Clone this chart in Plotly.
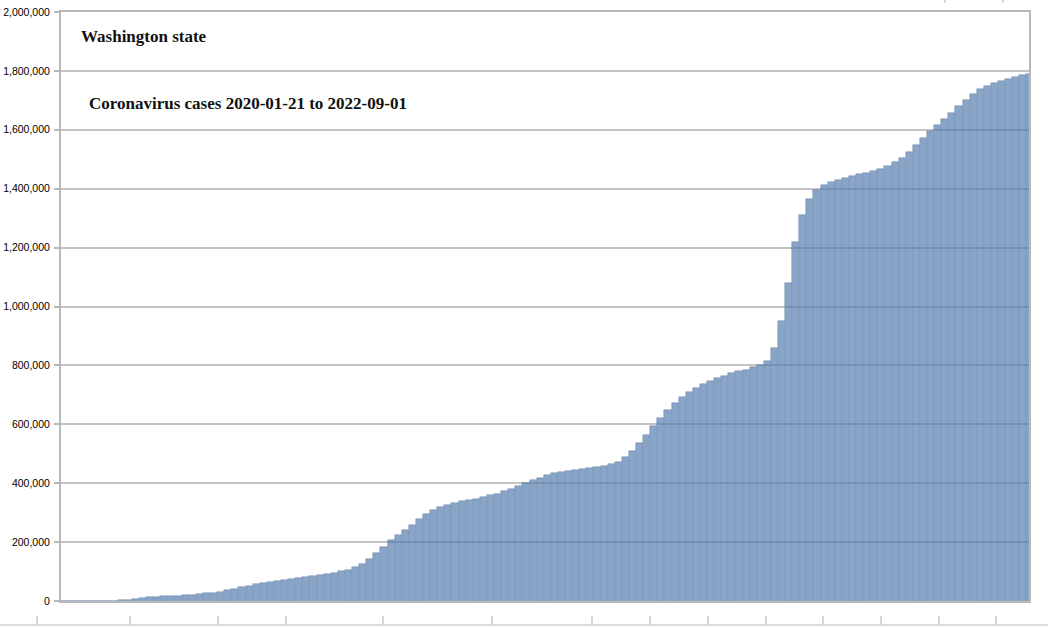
import plotly.graph_objects as go
import pandas as pd

# Weekly cumulative coronavirus cases, Washington state
week_start = pd.date_range("2020-01-21", "2022-08-30", freq="7D")
cases = [
    0, 0, 0, 0, 0, 20, 180, 1000, 2200, 4900,
    8000, 10500, 12000, 13500, 15500, 17000, 18500, 20000, 21500, 23500,
    25500, 28500, 32000, 36000, 41000, 46000, 52000, 57000, 61000, 65000,
    69000, 73000, 76000, 79000, 81500, 84500, 88000, 92000, 96000, 101000,
    106000, 114000, 127000, 143000, 162000, 185000, 207000, 225000, 240000, 258000,
    278000, 295000, 308000, 318000, 326000, 332000, 338000, 343000, 348000, 353000,
    359000, 365000, 372000, 380000, 390000, 400000, 410000, 419000, 427000, 434000,
    439000, 443000, 446000, 449000, 451000, 454000, 458000, 464000, 473000, 488000,
    510000, 537000, 565000, 595000, 622000, 648000, 672000, 692000, 709000, 723000,
    736000, 747000, 757000, 765000, 773000, 780000, 786000, 793000, 800000, 815000,
    860000, 950000, 1080000, 1220000, 1310000, 1365000, 1395000, 1412000, 1422000, 1430000,
    1437000, 1443000, 1449000, 1454000, 1460000, 1468000, 1478000, 1490000, 1505000, 1525000,
    1548000, 1572000, 1595000, 1615000, 1637000, 1658000, 1680000, 1700000, 1720000, 1737000,
    1750000, 1760000, 1767000, 1773000, 1779000, 1785000, 1790000,
]
y_ticks = [0, 200000, 400000, 600000, 800000, 1000000, 1200000, 1400000, 1600000, 1800000, 2000000]
title_1 = "Washington state"
title_2 = "Coronavirus cases 2020-01-21 to 2022-09-01"

W, H = 1048, 627
ML, MR, MT, MB = 61, 19, 12, 26

week_ms = 7 * 24 * 3600 * 1000

fig = go.Figure()
fig.add_trace(go.Bar(
    x=week_start,
    y=cases,
    width=[week_ms] * len(cases),
    offset=0,
    marker=dict(color="rgb(86,126,174)", line=dict(color="rgb(58,94,140)", width=0.5)),
    opacity=0.7,
    hoverinfo="x+y",
))

# decorative frame strip (cropped image edge) below the chart
frame_tick_px = [37, 130, 218, 286, 383, 492, 592, 650, 708, 766, 823, 881, 939, 996]
shapes = []
pw = W - ML - MR
ph = H - MT - MB
def px_to_paper_x(px):
    return (px - ML) / pw
def py_to_paper_y(py):
    return (H - MB - py) / ph
shapes.append(dict(type="line", xref="paper", yref="paper",
                   x0=px_to_paper_x(0), x1=px_to_paper_x(W),
                   y0=py_to_paper_y(625), y1=py_to_paper_y(625),
                   line=dict(color="#d0d0d0", width=1.5)))
for tx in frame_tick_px:
    shapes.append(dict(type="line", xref="paper", yref="paper",
                       x0=px_to_paper_x(tx), x1=px_to_paper_x(tx),
                       y0=py_to_paper_y(616), y1=py_to_paper_y(625),
                       line=dict(color="#c8c8c8", width=1.5)))
for tx in [945, 1003]:
    shapes.append(dict(type="line", xref="paper", yref="paper",
                       x0=px_to_paper_x(tx), x1=px_to_paper_x(tx),
                       y0=py_to_paper_y(0), y1=py_to_paper_y(3),
                       line=dict(color="#c8c8c8", width=1.5)))

fig.update_layout(
    width=W, height=H,
    margin=dict(l=ML, r=MR, t=MT, b=MB, pad=0, autoexpand=False),
    paper_bgcolor="white",
    plot_bgcolor="white",
    showlegend=False,
    bargap=0,
    shapes=shapes,
    xaxis=dict(
        type="date",
        range=["2020-01-21", "2022-09-01 12:00"],
        showticklabels=False,
        ticks="",
        showgrid=False,
        showline=True, linecolor="#b8b8b8", linewidth=2, mirror=True,
        zeroline=False,
        automargin=False,
    ),
    yaxis=dict(
        range=[0, 2000000],
        tickvals=y_ticks,
        tickformat=",",
        tickfont=dict(family="Liberation Sans, Arial", size=10.5, color="#000000"),
        ticks="outside", ticklen=5, tickcolor="#b8b8b8", tickwidth=1.5,
        ticklabelstandoff=2,
        showgrid=True, gridcolor="#c4c4c4", gridwidth=1.5,
        showline=True, linecolor="#b8b8b8", linewidth=2, mirror=True,
        zeroline=False,
        automargin=False,
    ),
    annotations=[
        dict(text="<b>" + title_1 + "</b>", xref="paper", yref="paper",
             x=px_to_paper_x(79), y=py_to_paper_y(36), xanchor="left", yanchor="middle",
             showarrow=False,
             font=dict(family="Liberation Serif, Times New Roman", size=17, color="#111111")),
        dict(text="<b>" + title_2 + "</b>", xref="paper", yref="paper",
             x=px_to_paper_x(87), y=py_to_paper_y(103), xanchor="left", yanchor="middle",
             showarrow=False,
             font=dict(family="Liberation Serif, Times New Roman", size=17, color="#111111")),
    ],
)

fig.write_html(
    "out.html",
    config={"displayModeBar": False},
    post_script="document.body.style.margin='0';document.body.style.overflow='hidden';",
)
